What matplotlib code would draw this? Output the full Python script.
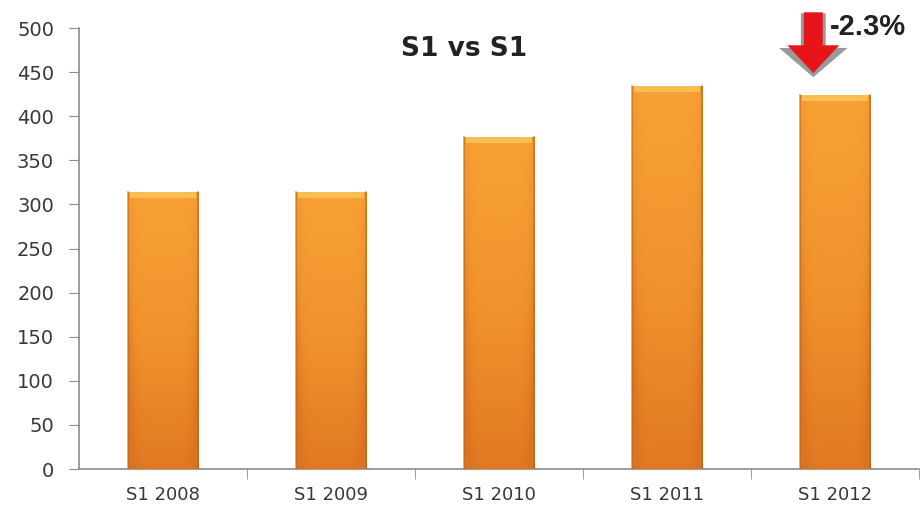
import numpy as np
import matplotlib.pyplot as plt
from matplotlib.patches import Polygon
from matplotlib.colors import LinearSegmentedColormap

labels = ['S1 2008', 'S1 2009', 'S1 2010', 'S1 2011', 'S1 2012']
values = [314, 314, 377, 434, 424]

plt.rcParams['font.family'] = ['DejaVu Sans']

fig = plt.figure(figsize=(9.21, 5.14), dpi=100)
ax = fig.add_axes([0.0858, 0.0875, 0.9122, 0.858])

x = np.arange(len(values))
bars = ax.bar(x, values, width=0.42, color='#F39A30', zorder=2)

# orange shading: darker toward the base, darker at the sides
vert = LinearSegmentedColormap.from_list('o', ['#DD7320', '#F0922C', '#F8A236'])
ny, nx = 200, 60
yy = np.linspace(0, 1, ny)[:, None]
xx = np.linspace(-1, 1, nx)[None, :]
shade = np.clip(yy * 0.9 + 0.1 - 0.35 * np.abs(xx) ** 6, 0, 1)
for b in bars:
    x0, w, h = b.get_x(), b.get_width(), b.get_height()
    im = ax.imshow(shade, cmap=vert, origin='lower', aspect='auto',
                   extent=[x0, x0 + w, 0, h], zorder=3, vmin=0, vmax=1)
    im.set_clip_path(b)
    # light rim on top of each bar
    ax.bar(x0 + w / 2, 7, bottom=h - 7, width=w * 0.94, color='#F9BE52',
           zorder=4, linewidth=0)
    ax.plot([x0, x0], [0, h], color='#B86418', lw=1.2, zorder=5, alpha=0.6)
    ax.plot([x0 + w, x0 + w], [0, h], color='#B86418', lw=1.2, zorder=5, alpha=0.6)

ax.set_xlim(-0.5, len(values) - 0.5)
ax.set_ylim(0, 500)
ax.set_yticks(range(0, 501, 50))
ax.set_xticks(x)
ax.set_xticklabels(labels)
ax.set_xticks(np.arange(0.5, len(values), 1), minor=True)

for s in ['top', 'right']:
    ax.spines[s].set_visible(False)
for s in ['left', 'bottom']:
    ax.spines[s].set_color('#8C8C8C')
    ax.spines[s].set_linewidth(1.2)

ax.tick_params(axis='y', length=7, color='#8C8C8C', labelsize=14,
               labelcolor='#383838', pad=11)
ax.tick_params(axis='x', which='major', length=0, labelsize=13,
               labelcolor='#383838', pad=12)
ax.tick_params(axis='x', which='minor', length=7, color='#8C8C8C')

ax.text(0.458, 0.953, 'S1 vs S1', transform=ax.transAxes, ha='center',
        va='center', fontsize=19, fontweight='bold', color='#222222')

# drop arrow with percentage change
change = (values[-1] - values[-2]) / values[-2] * 100
tip_x, tip_y = x[-1] - 0.13, values[-1] + 25
shape = np.array([[-8, 46], [8, 46], [8, 21], [22, 21], [0, 0], [-22, 21], [-8, 21]])
base = ax.transData.transform((tip_x, tip_y))
def arrow(pts, color, z):
    pix = base + pts * fig.dpi / 72
    poly = Polygon(pix, closed=True, transform=None, facecolor=color,
                   edgecolor='none', zorder=z, clip_on=False)
    fig.add_artist(poly)
arrow(shape * np.array([1.12, 1.0]) + np.array([0, -3]), '#9A9A9A', 6)
arrow(shape * np.array([0.85, 0.95]), '#E8141B', 7)

ax.text(tip_x + 0.1, tip_y + 52, f'{change:.1f}%', ha='left', va='center',
        fontsize=21, fontweight='bold', family='Liberation Sans',
        color='#222222', clip_on=False)

fig.savefig('out.png', dpi=100)
